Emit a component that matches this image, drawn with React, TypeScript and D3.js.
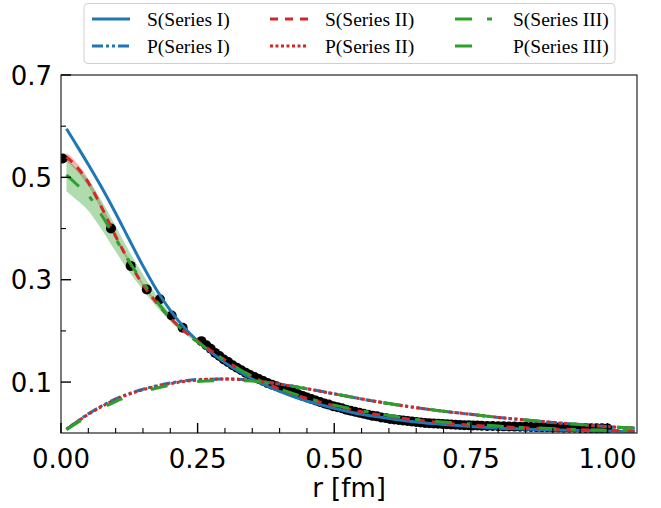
import React from "react";
import * as d3 from "d3";

// ---- data ----
const pointsR = [0.003, 0.0915, 0.1275, 0.157, 0.181, 0.2025, 0.2226, 0.257, 0.266, 0.274, 0.282, 0.29, 0.298, 0.306, 0.314, 0.322, 0.33, 0.338, 0.346, 0.354, 0.362, 0.37, 0.378, 0.386, 0.394, 0.402, 0.41, 0.418, 0.426, 0.434, 0.442, 0.45, 0.458, 0.466, 0.474, 0.482, 0.49, 0.498, 0.506, 0.514, 0.522, 0.53, 0.538, 0.546, 0.554, 0.562, 0.57, 0.578, 0.586, 0.594, 0.602, 0.61, 0.618, 0.626, 0.634, 0.642, 0.65, 0.658, 0.666, 0.674, 0.682, 0.69, 0.698, 0.706, 0.714, 0.722, 0.73, 0.738, 0.746, 0.754, 0.762, 0.77, 0.78, 0.79, 0.8, 0.81, 0.82, 0.83, 0.84, 0.85, 0.86, 0.87, 0.88, 0.89, 0.9, 0.91, 0.92, 0.93, 0.94, 0.95, 0.96, 0.97, 0.98, 0.99, 1.0];
const pointsV = [0.537, 0.4, 0.327, 0.281, 0.262, 0.23, 0.206, 0.18, 0.172, 0.165, 0.157, 0.151, 0.144, 0.139, 0.133, 0.128, 0.123, 0.118, 0.114, 0.11, 0.106, 0.102, 0.098, 0.095, 0.092, 0.089, 0.086, 0.082, 0.079, 0.076, 0.073, 0.07, 0.067, 0.064, 0.061, 0.058, 0.056, 0.053, 0.051, 0.049, 0.046, 0.044, 0.042, 0.04, 0.038, 0.036, 0.034, 0.033, 0.031, 0.03, 0.028, 0.027, 0.026, 0.025, 0.024, 0.023, 0.022, 0.021, 0.02, 0.0195, 0.019, 0.0185, 0.018, 0.0175, 0.017, 0.0165, 0.016, 0.0158, 0.0155, 0.0152, 0.015, 0.0147, 0.0144, 0.0141, 0.0138, 0.0135, 0.0132, 0.013, 0.0127, 0.0125, 0.0122, 0.012, 0.0118, 0.0116, 0.0114, 0.0112, 0.011, 0.0108, 0.0106, 0.0104, 0.0102, 0.01, 0.0098, 0.0096, 0.0095];

const curveR = [0.01, 0.025, 0.05, 0.075, 0.1, 0.125, 0.15, 0.175, 0.2, 0.225, 0.25, 0.275, 0.3, 0.35, 0.4, 0.45, 0.5, 0.55, 0.6, 0.65, 0.7, 0.75, 0.8, 0.9, 1.0, 1.05];
const sSeriesI = [0.595, 0.569, 0.525, 0.479, 0.43, 0.378, 0.327, 0.28, 0.24, 0.207, 0.18, 0.158, 0.138, 0.106, 0.082, 0.063, 0.049, 0.037, 0.029, 0.022, 0.017, 0.013, 0.01, 0.0065, 0.0045, 0.0035];
const sSeriesII = [0.54, 0.525, 0.49, 0.44, 0.385, 0.335, 0.29, 0.255, 0.225, 0.2, 0.18, 0.161, 0.143, 0.111, 0.086, 0.068, 0.054, 0.042, 0.033, 0.026, 0.02, 0.016, 0.013, 0.0085, 0.0055, 0.0045];
const sSeriesIII = [0.505, 0.49, 0.465, 0.425, 0.38, 0.335, 0.295, 0.258, 0.226, 0.199, 0.178, 0.159, 0.142, 0.111, 0.087, 0.069, 0.055, 0.044, 0.035, 0.027, 0.022, 0.018, 0.014, 0.009, 0.006, 0.005];
const bandII = [0.008, 0.008, 0.007, 0.006, 0.005, 0.004, 0.003, 0.002, 0.002, 0.001, 0.001, 0, 0, 0, 0, 0, 0, 0, 0, 0, 0, 0, 0, 0, 0, 0];
const bandIII = [0.032, 0.031, 0.03, 0.028, 0.025, 0.02, 0.015, 0.011, 0.007, 0.004, 0.002, 0.001, 0, 0, 0, 0, 0, 0, 0, 0, 0, 0, 0, 0, 0, 0];

const pR = [0.01, 0.05, 0.1, 0.15, 0.2, 0.25, 0.3, 0.35, 0.4, 0.45, 0.5, 0.55, 0.6, 0.65, 0.7, 0.75, 0.8, 0.85, 0.9, 0.95, 1.0, 1.05];
const pSeriesI = [0.008, 0.038, 0.067, 0.086, 0.098, 0.105, 0.106, 0.103, 0.096, 0.087, 0.077, 0.067, 0.058, 0.05, 0.043, 0.037, 0.031, 0.026, 0.021, 0.017, 0.013, 0.01];
const pSeriesII = [0.008, 0.037, 0.066, 0.085, 0.097, 0.104, 0.106, 0.103, 0.096, 0.087, 0.077, 0.067, 0.058, 0.05, 0.043, 0.037, 0.031, 0.026, 0.021, 0.017, 0.013, 0.01];
const pSeriesIII = [0.007, 0.034, 0.062, 0.081, 0.094, 0.101, 0.103, 0.102, 0.096, 0.087, 0.077, 0.067, 0.058, 0.05, 0.043, 0.037, 0.031, 0.026, 0.021, 0.017, 0.013, 0.01];

const xMajor = [0, 0.25, 0.5, 0.75, 1.0];
const xMajorLabels = ["0.00", "0.25", "0.50", "0.75", "1.00"];
const yMajor = [0.1, 0.3, 0.5, 0.7];
const yMajorLabels = ["0.1", "0.3", "0.5", "0.7"];
const yMinor = [0.2, 0.4, 0.6];

const legendLabels = ["S(Series I)", "P(Series I)", "S(Series II)", "P(Series II)", "S(Series III)", "P(Series III)"];

const BLUE = "#1f77b4";
const RED = "#d62728";
const GREEN = "#2ca02c";

export default function App() {
  const W = 661, H = 508;
  const left = 61, right = 637, top = 75, bottom = 433;
  const x = d3.scaleLinear().domain([0, 1.054]).range([left, right]);
  const y = d3.scaleLinear().domain([0.0005, 0.7]).range([bottom, top]);

  const line = (rs: number[], vs: number[]) =>
    d3.line<number>().x((_, i) => x(rs[i])).y((v) => y(v)).curve(d3.curveMonotoneX)(vs) || "";
  const area = (rs: number[], vs: number[], bs: number[]) =>
    d3.area<number>().x((_, i) => x(rs[i])).y0((v, i) => y(v - bs[i])).y1((v, i) => y(v + bs[i])).curve(d3.curveMonotoneX)(vs) || "";

  const xMinor = d3.range(0, 21).map((i) => i * 0.05).filter((v) => Math.abs((v / 0.25) - Math.round(v / 0.25)) > 1e-6);

  const series = [
    { d: line(curveR, sSeriesI), c: BLUE, dash: "" },
    { d: line(pR, pSeriesI), c: BLUE, dash: "11 3 3 3 3 3" },
    { d: line(curveR, sSeriesII), c: RED, dash: "8 7" },
    { d: line(pR, pSeriesII), c: RED, dash: "3 2.5" },
    { d: line(curveR, sSeriesIII), c: GREEN, dash: "17 15 5 15" },
    { d: line(pR, pSeriesIII), c: GREEN, dash: "17 30" },
  ];

  const legendCols = [
    { hx: 92, tx: 147 },
    { hx: 270, tx: 325 },
    { hx: 455, tx: 513 },
  ];
  const legendRows = [19, 46];

  return (
    <svg width={W} height={H} style={{ position: "absolute", left: 0, top: 0, background: "#fff" }}>
      <defs>
        <clipPath id="plotclip">
          <rect x={left} y={top} width={right - left} height={bottom - top} />
        </clipPath>
      </defs>
      <g clipPath="url(#plotclip)">
        <path d={area(curveR, sSeriesII, bandII)} fill={RED} opacity={0.35} />
        <path d={area(curveR, sSeriesIII, bandIII)} fill={GREEN} opacity={0.38} />
        {pointsR.map((r, i) => (
          <circle key={i} cx={x(r)} cy={y(pointsV[i])} r={5} fill="#000" />
        ))}
        {series.map((s, i) => (
          <path key={i} d={s.d} fill="none" stroke={s.c} strokeWidth={3} strokeDasharray={s.dash || undefined} />
        ))}
      </g>
      {/* spines */}
      <rect x={left} y={top} width={right - left} height={bottom - top} fill="none" stroke="#222" strokeWidth={1.2} />
      {/* x ticks */}
      {xMajor.map((v, i) => (
        <g key={"xm" + i}>
          <line x1={x(v)} x2={x(v)} y1={bottom} y2={bottom - 10} stroke="#000" strokeWidth={1.4} />
          <text x={x(v)} y={468} textAnchor="middle" fontFamily="DejaVu Sans" fontSize={26} fill="#000">{xMajorLabels[i]}</text>
        </g>
      ))}
      {xMinor.map((v, i) => (
        <line key={"xn" + i} x1={x(v)} x2={x(v)} y1={bottom} y2={bottom - 5} stroke="#000" strokeWidth={1.1} />
      ))}
      {yMajor.map((v, i) => (
        <g key={"ym" + i}>
          <line x1={left} x2={left + 10} y1={y(v)} y2={y(v)} stroke="#000" strokeWidth={1.4} />
          <text x={52} y={y(v) + 9.5} textAnchor="end" fontFamily="DejaVu Sans" fontSize={26} fill="#000">{yMajorLabels[i]}</text>
        </g>
      ))}
      {yMinor.map((v, i) => (
        <line key={"yn" + i} x1={left} x2={left + 5} y1={y(v)} y2={y(v)} stroke="#000" strokeWidth={1.1} />
      ))}
      <text x={(left + right) / 2} y={497} textAnchor="middle" fontFamily="DejaVu Sans" fontSize={26} fill="#000">r [fm]</text>
      {/* legend */}
      <rect x={84} y={3.5} width={531} height={60} rx={4} ry={4} fill="#fff" fillOpacity={0.8} stroke="#d0d0d0" strokeWidth={1} />
      {series.map((s, i) => {
        const col = legendCols[Math.floor(i / 2)];
        const ry = legendRows[i % 2];
        return (
          <g key={"lg" + i}>
            <line x1={col.hx} x2={col.hx + 38} y1={ry} y2={ry} stroke={s.c} strokeWidth={3} strokeDasharray={s.dash || undefined} />
            <text x={col.tx} y={ry + 6.5} fontFamily="Liberation Serif" fontSize={19.5} fill="#000">{legendLabels[i]}</text>
          </g>
        );
      })}
    </svg>
  );
}
